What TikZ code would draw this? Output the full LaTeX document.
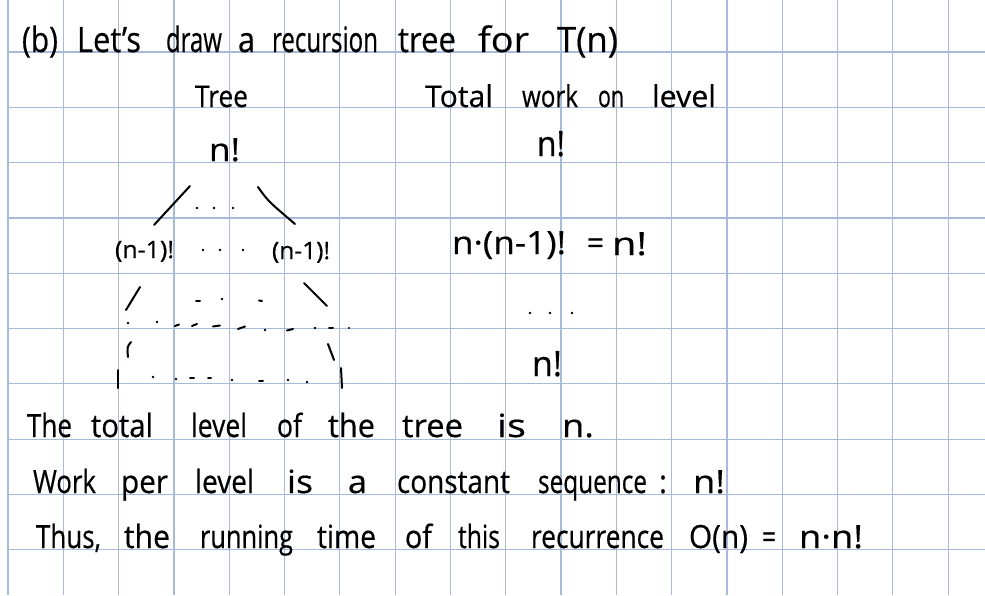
\documentclass[tikz,border=0pt]{standalone}
\usepackage{fontspec}
\usepackage{graphicx}
\setmainfont{Open Sans}[FakeBold=0.5]
\definecolor{gridblue}{RGB}{168,186,218}
\newcommand\fw[2]{\resizebox{#1pt}{\height}{#2}}
\tikzset{
  wd/.style={anchor=base west, inner sep=0pt, outer sep=0pt, font=\fontsize{32}{32}\selectfont},
  big/.style={wd, font=\fontsize{35}{35}\selectfont},
  mid/.style={wd, font=\fontsize{30}{30}\selectfont},
  small/.style={wd, font=\fontsize{24}{24}\selectfont},
  gridline/.style={draw=gridblue, line width=1.2pt},
  pen/.style={draw=black, line width=2pt, line cap=round},
  dotp/.style={fill=black}
}
\begin{document}
\begin{tikzpicture}[x=1pt,y=-1pt]
\useasboundingbox (0,0) rectangle (985,595);
\fill[white] (0,0) rectangle (985,595);
% grid
\foreach \i in {0,...,17} \draw[gridline] ({8+55.3*\i},0) -- ({8+55.3*\i},595);
\foreach \j in {0,...,9} \draw[gridline] (8,{52+55.3*\j}) -- (985,{52+55.3*\j});

% line 1
\node[big] (t1) at (22,52) {\fw{36}{(b)}};
\node[big] (t2) at (77,52) {\fw{64}{Let's}};
\node[big] (t3) at (166,52) {\fw{56}{draw}};
\node[big] (t4) at (238,52) {\fw{17}{a}};
\node[big] (t5) at (272,52) {\fw{106}{recursion}};
\node[big] (t6) at (398,52) {\fw{58}{tree}};
\node[big] (t7) at (478,52) {\fw{51}{for}};
\node[big] (t8) at (557,52) {\fw{61}{T(n)}};

% line 2
\node[mid] (h1) at (195,107) {\fw{53}{Tree}};
\node[mid] (h2) at (425,107) {\fw{68}{Total}};
\node[mid] (h3) at (522,107) {\fw{56}{work}};
\node[mid] (h4) at (598,107) {\fw{26}{on}};
\node[mid] (h5) at (652,107) {\fw{64}{level}};

% tree root and level work
\node[wd] (root) at (209,161) {\fw{31}{n!}};
\node[big] (w1) at (537,156) {\fw{28}{n!}};

% branches of root
\coordinate (lb1) at (190,186); \coordinate (lb2) at (154,225);
\coordinate (rb1) at (258,187); \coordinate (rb2) at (295,224);
\draw[pen] (lb1) -- (lb2);
\draw[pen] (rb1) .. controls (268,201) .. (rb2);
\foreach \x in {197,214,233} \fill[dotp] (\x,208) circle (1.4);

% level 2 nodes
\node[small] (c1) at (115,258) {\fw{59}{(n-1)!}};
\node[small] (c2) at (272,259) {\fw{58}{(n-1)!}};
\foreach \x in {203,220,243} \fill[dotp] (\x,250) circle (1.4);

\node[wd] (w2a) at (452,254) {\fw{114}{n·(n-1)!}};
\node[wd] (w2b) at (587,254) {\fw{17}{=}};
\node[wd] (w2c) at (612,255) {\fw{35}{n!}};

% next level branches
\coordinate (la1) at (140,287); \coordinate (la2) at (126,310);
\coordinate (ra1) at (304,283); \coordinate (ra2) at (327,306);
\draw[pen] (la1) -- (la2);
\draw[pen] (ra1) -- (ra2);
\draw[pen] (196,301) -- (200,301);
\fill[dotp] (222,299) circle (1.4);
\draw[pen] (259,300.5) -- (262,301);
\foreach \x in {530,550,572} \fill[dotp] (\x,313) circle (1.4);

% dotted row
\fill[dotp] (128,323) circle (1.4);
\fill[dotp] (157,322) circle (1.4);
\draw[pen] (175,326) -- (179,324.5);
\draw[pen] (192,326) -- (197,324);
\draw[pen] (213,326.5) -- (220,325.5);
\draw[pen] (238,329) -- (245,326.5);
\fill[dotp] (265,330) circle (1.4);
\draw[pen] (287,330.5) -- (293,329);
\fill[dotp] (315,328) circle (1.4);
\draw[pen] (329,328) -- (333,328);
\fill[dotp] (349,328) circle (1.1);

% lower branches
\coordinate (lc1) at (131,342); \coordinate (lc2) at (128,357);
\coordinate (rc1) at (328,344); \coordinate (rc2) at (334,360);
\draw[pen] (lc1) .. controls (127,347) .. (lc2);
\draw[pen] (rc1) -- (rc2);

% leaves
\coordinate (lf1) at (118,370); \coordinate (lf2) at (118,388);
\coordinate (rf1) at (341,368); \coordinate (rf2) at (342,388);
\draw[pen] (lf1) -- (lf2);
\draw[pen] (rf1) -- (rf2);
\fill[dotp] (153,377) circle (1.4);
\fill[dotp] (176,379) circle (1.3);
\draw[pen] (190,378) -- (194,378);
\draw[pen] (208,378) -- (211,378);
\fill[dotp] (232,380) circle (1.4);
\draw[pen] (259,381) -- (263,381);
\fill[dotp] (288,380) circle (1.3);
\fill[dotp] (307,382) circle (1.3);
\node[big] (w3) at (532,376) {\fw{30}{n!}};

% line 7
\node[wd] (a1) at (27,437) {\fw{45}{The}};
\node[wd] (a2) at (91,437) {\fw{62}{total}};
\node[wd] (a3) at (191,437) {\fw{56}{level}};
\node[wd] (a4) at (277,437) {\fw{25}{of}};
\node[wd] (a5) at (328,437) {\fw{47}{the}};
\node[wd] (a6) at (402,437) {\fw{61}{tree}};
\node[wd] (a7) at (497,437) {\fw{29}{is}};
\node[wd] (a8) at (562,437) {\fw{32}{n.}};

% line 8
\node[wd] (b1) at (33,493) {\fw{63}{Work}};
\node[wd] (b2) at (121,493) {\fw{47}{per}};
\node[wd] (b3) at (195,493) {\fw{59}{level}};
\node[wd] (b4) at (287,493) {\fw{26}{is}};
\node[wd] (b5) at (348,493) {\fw{19}{a}};
\node[wd] (b6) at (397,493) {\fw{113}{constant}};
\node[wd] (b7) at (538,493) {\fw{109}{sequence}};
\node[wd] (b8) at (659,493) {\fw{8}{:}};
\node[wd] (b9) at (693,493) {\fw{32}{n!}};

% line 9
\node[wd] (c9a) at (36,548) {\fw{65}{Thus,}};
\node[wd] (c9b) at (124,548) {\fw{46}{the}};
\node[wd] (c9c) at (200,548) {\fw{93}{running}};
\node[wd] (c9d) at (317,548) {\fw{59}{time}};
\node[wd] (c9e) at (405,548) {\fw{27}{of}};
\node[wd] (c9f) at (458,548) {\fw{42}{this}};
\node[wd] (c9g) at (531,548) {\fw{133}{recurrence}};
\node[wd] (c9h) at (689,548) {\fw{59}{O(n)}};
\node[wd] (c9i) at (762,548) {\fw{14}{=}};
\node[wd] (c9j) at (799,548) {\fw{64}{n·n!}};
\end{tikzpicture}
\end{document}
